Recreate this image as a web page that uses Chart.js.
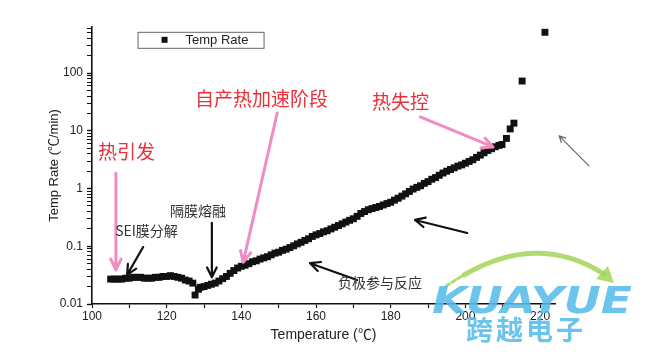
<!DOCTYPE html>
<html lang="zh-CN">
<head>
  <meta charset="UTF-8" />
  <title>Temp Rate</title>
  <script src="https://cdn.jsdelivr.net/npm/chart.js@4.4.1/dist/chart.umd.min.js"></script>
  <style>
    html, body { margin: 0; padding: 0; background: #fff; }
    #wrap { position: relative; width: 651px; height: 363px; }
  </style>
</head>
<body>
  <div id="wrap"><canvas id="grafico" width="651" height="363"></canvas></div>
  <script>
    // temperatura (℃) e taxa (℃/min)
    const temps = [
      105, 106, 107, 108, 109, 110, 111, 112, 113, 114, 115, 116, 117, 118, 119, 120,
      121, 122, 123, 124, 125, 126, 127, 127.6, 128.5,
      129, 130, 131, 132, 133, 134, 135, 136, 137, 138, 139, 140, 141, 142, 143, 144,
      145, 146, 147, 148, 149, 150, 151, 152, 153, 154, 155, 156, 157, 158, 159, 160,
      161, 162, 163, 164, 165, 166, 167, 168, 169, 170, 171, 172, 173, 174, 175, 176,
      177, 178, 179, 180, 181, 182, 183, 184, 185, 186, 187, 188, 189, 190, 191, 192,
      193, 194, 195, 196, 197, 198, 199, 200, 201, 202, 203, 204, 205, 206, 207, 208,
      209, 209.8, 211, 212, 213, 215.2, 221.3
    ];
    const rates = [
      0.027, 0.027, 0.027, 0.027, 0.028, 0.028, 0.029, 0.029, 0.029, 0.028, 0.028, 0.028,
      0.029, 0.029, 0.030, 0.030, 0.031, 0.030, 0.029, 0.028, 0.026, 0.025, 0.023, 0.0143, 0.018,
      0.0195, 0.020, 0.021, 0.022, 0.023, 0.025, 0.0275, 0.030, 0.034, 0.038, 0.042, 0.045,
      0.047, 0.050, 0.054, 0.056, 0.060, 0.063, 0.066, 0.071, 0.076, 0.079, 0.085, 0.089,
      0.095, 0.102, 0.110, 0.117, 0.126, 0.135, 0.148, 0.158, 0.166, 0.178, 0.186, 0.20,
      0.214, 0.229, 0.245, 0.263, 0.282, 0.30, 0.33, 0.37, 0.40, 0.43, 0.45, 0.47,
      0.49, 0.52, 0.55, 0.58, 0.63, 0.68, 0.74, 0.81, 0.89, 0.98, 1.05, 1.12,
      1.23, 1.32, 1.45, 1.55, 1.70, 1.86, 2.0, 2.14, 2.29, 2.45, 2.57, 2.75,
      2.95, 3.16, 3.47, 3.8, 4.17, 4.57, 4.9, 5.3,
      5.6, 5.8, 7.4, 10.8, 13.6, 73, 510
    ];
    const seriesLabel = 'Temp Rate';
    const xTitle = 'Temperature (℃)';
    const yTitle = 'Temp Rate (℃/min)';

    // anotações (posição em coordenadas de dados: temperatura, taxa)
    const notes = [
      { text: '热引发', x: 101.6, y: 4.3, kind: 'red' },
      { text: '自产热加速阶段', x: 127.6, y: 35.7, kind: 'red' },
      { text: '热失控', x: 175, y: 31.6, kind: 'red' },
      { text: '隔膜熔融', x: 120.9, y: 0.41, kind: 'gray' },
      { text: 'SEI膜分解', x: 106.2, y: 0.184, kind: 'gray' },
      { text: '负极参与反应', x: 165.9, y: 0.023, kind: 'gray' }
    ];
    const arrows = [
      { from: [106.4, 1.86], to: [106.4, 0.039], kind: 'pink' },
      { from: [149.6, 20.4], to: [140.5, 0.053], kind: 'pink' },
      { from: [187.9, 17.4], to: [207.4, 5.26], kind: 'pink' },
      { from: [113.7, 0.097], to: [109.4, 0.032], kind: 'black' },
      { from: [132.1, 0.254], to: [132.1, 0.029], kind: 'black' },
      { from: [200.5, 0.17], to: [186.5, 0.286], kind: 'black' },
      { from: [171, 0.026], to: [158.4, 0.051], kind: 'black' },
      { from: [233.1, 2.47], to: [225.1, 8.2], kind: 'thin' }
    ];

    const points = temps.map((t, i) => ({ x: t, y: rates[i] }));

    const tickFont = { family: '"Liberation Sans", Arial, sans-serif', size: 12 };

    function isDecade(v) {
      const l = Math.log10(v);
      return Math.abs(l - Math.round(l)) < 1e-9;
    }
    function isLogStep(v) {
      const m = v / Math.pow(10, Math.floor(Math.log10(v) + 1e-9));
      return Math.abs(m - Math.round(m)) < 1e-6;
    }

    function drawArrow(ctx, x1, y1, x2, y2, color, width, head) {
      const ang = Math.atan2(y2 - y1, x2 - x1);
      ctx.save();
      ctx.strokeStyle = color;
      ctx.lineWidth = width;
      ctx.lineCap = 'round';
      ctx.lineJoin = 'round';
      ctx.beginPath();
      ctx.moveTo(x1, y1);
      ctx.lineTo(x2, y2);
      ctx.moveTo(x2 - head * Math.cos(ang - 0.45), y2 - head * Math.sin(ang - 0.45));
      ctx.lineTo(x2, y2);
      ctx.lineTo(x2 - head * Math.cos(ang + 0.45), y2 - head * Math.sin(ang + 0.45));
      ctx.stroke();
      ctx.restore();
    }

    const annotatePlugin = {
      id: 'anotacoes',
      afterDraw(chart) {
        const ctx = chart.ctx;
        const xs = chart.scales.x, ys = chart.scales.y;

        // legenda
        const lx = xs.getPixelForValue(112.2), ly = ys.getPixelForValue(520);
        ctx.save();
        ctx.strokeStyle = '#666';
        ctx.lineWidth = 1;
        ctx.strokeRect(lx + 0.5, ly + 0.5, 126, 16);
        ctx.fillStyle = '#111';
        ctx.fillRect(lx + 24, ly + 5, 6, 6);
        ctx.font = '13px "Liberation Sans", Arial, sans-serif';
        ctx.textBaseline = 'middle';
        ctx.fillStyle = '#222';
        ctx.fillText(chart.data.datasets[0].label, lx + 48, ly + 9);
        ctx.restore();

        // setas
        arrows.forEach(a => {
          const x1 = xs.getPixelForValue(a.from[0]), y1 = ys.getPixelForValue(a.from[1]);
          const x2 = xs.getPixelForValue(a.to[0]), y2 = ys.getPixelForValue(a.to[1]);
          if (a.kind === 'pink') drawArrow(ctx, x1, y1, x2, y2, '#f08cc2', 3, 12);
          else if (a.kind === 'black') drawArrow(ctx, x1, y1, x2, y2, '#111', 2.2, 11);
          else drawArrow(ctx, x1, y1, x2, y2, '#666', 1.2, 7);
        });

        // textos
        notes.forEach(n => {
          const px = xs.getPixelForValue(n.x), py = ys.getPixelForValue(n.y);
          ctx.save();
          ctx.textBaseline = 'middle';
          if (n.kind === 'red') {
            ctx.font = '19px "Noto Sans CJK SC", sans-serif';
            ctx.fillStyle = '#e8303a';
          } else {
            ctx.font = '14px "Noto Sans CJK SC", sans-serif';
            ctx.fillStyle = '#333';
          }
          ctx.fillText(n.text, px, py);
          ctx.restore();
        });

        // marca d'água
        ctx.save();
        ctx.globalAlpha = 0.88;
        ctx.strokeStyle = '#a6d65c';
        ctx.lineWidth = 5;
        ctx.lineCap = 'round';
        ctx.beginPath();
        ctx.moveTo(464, 275);
        ctx.quadraticCurveTo(538, 232, 604, 274);
        ctx.stroke();
        ctx.fillStyle = '#a6d65c';
        ctx.beginPath();
        ctx.moveTo(614, 283);
        ctx.lineTo(596, 279);
        ctx.lineTo(608, 266);
        ctx.closePath();
        ctx.fill();
        ctx.lineWidth = 3;
        ctx.setLineDash([4, 3]);
        ctx.beginPath();
        ctx.moveTo(446, 286);
        ctx.lineTo(462, 276);
        ctx.stroke();
        ctx.setLineDash([]);
        ctx.fillStyle = '#56bce9';
        ctx.font = 'italic bold 38px "DejaVu Sans", sans-serif';
        ctx.textBaseline = 'alphabetic';
        const w = ctx.measureText('KUAYUE').width;
        ctx.translate(432, 313);
        ctx.scale(200 / w, 1);
        ctx.fillText('KUAYUE', 0, 0);
        ctx.restore();
        ctx.save();
        ctx.globalAlpha = 0.88;
        ctx.fillStyle = '#56bce9';
        ctx.font = 'bold 27px "Noto Sans CJK SC", sans-serif';
        ctx.textBaseline = 'middle';
        ['跨', '越', '电', '子'].forEach((c, i) => ctx.fillText(c, 466 + i * 30, 330));
        ctx.restore();
      }
    };

    const ctx = document.getElementById('grafico').getContext('2d');
    new Chart(ctx, {
      type: 'scatter',
      data: {
        datasets: [{
          label: seriesLabel,
          data: points,
          pointStyle: 'rect',
          pointRadius: 4.9,
          backgroundColor: '#111',
          borderColor: '#111',
          borderWidth: 0,
          showLine: false
        }]
      },
      options: {
        responsive: false,
        animation: false,
        devicePixelRatio: 1,
        layout: { padding: { left: 45, right: 96, top: 27, bottom: 17 } },
        plugins: {
          legend: { display: false },
          tooltip: { enabled: false }
        },
        scales: {
          x: {
            type: 'linear',
            min: 100,
            max: 224,
            afterFit: s => { s.height = 42; },
            ticks: {
              stepSize: 10,
              includeBounds: false,
              autoSkip: false,
              maxRotation: 0,
              padding: 1,
              font: tickFont,
              color: '#222',
              callback: v => (v % 20 === 0 ? String(v) : '')
            },
            grid: { display: true, drawOnChartArea: false, tickLength: 4, tickColor: '#111', tickWidth: 1.2 },
            border: { color: '#111', width: 1.6 },
            title: {
              display: true,
              text: xTitle,
              color: '#222',
              font: { family: '"Liberation Sans", Arial, sans-serif', size: 14 },
              padding: { top: 2, bottom: 2 }
            }
          },
          y: {
            type: 'logarithmic',
            min: 0.01,
            max: 630,
            afterFit: s => { s.width = 47; },
            ticks: {
              autoSkip: false,
              padding: 4,
              font: tickFont,
              color: '#222',
              callback: v => (isDecade(v) ? String(Number(v.toPrecision(3))) : '')
            },
            grid: {
              display: true,
              drawOnChartArea: false,
              tickLength: 5,
              tickWidth: c => (c.tick && isDecade(c.tick.value) ? 1.4 : 1),
              tickColor: c => (c.tick && isLogStep(c.tick.value) ? '#111' : 'rgba(0,0,0,0)')
            },
            border: { color: '#111', width: 1.6 },
            title: {
              display: true,
              text: yTitle,
              color: '#222',
              font: { family: '"Liberation Sans", Arial, sans-serif', size: 13 },
              padding: { top: 2, bottom: 2 }
            }
          }
        }
      },
      plugins: [annotatePlugin]
    });
  </script>
</body>
</html>
